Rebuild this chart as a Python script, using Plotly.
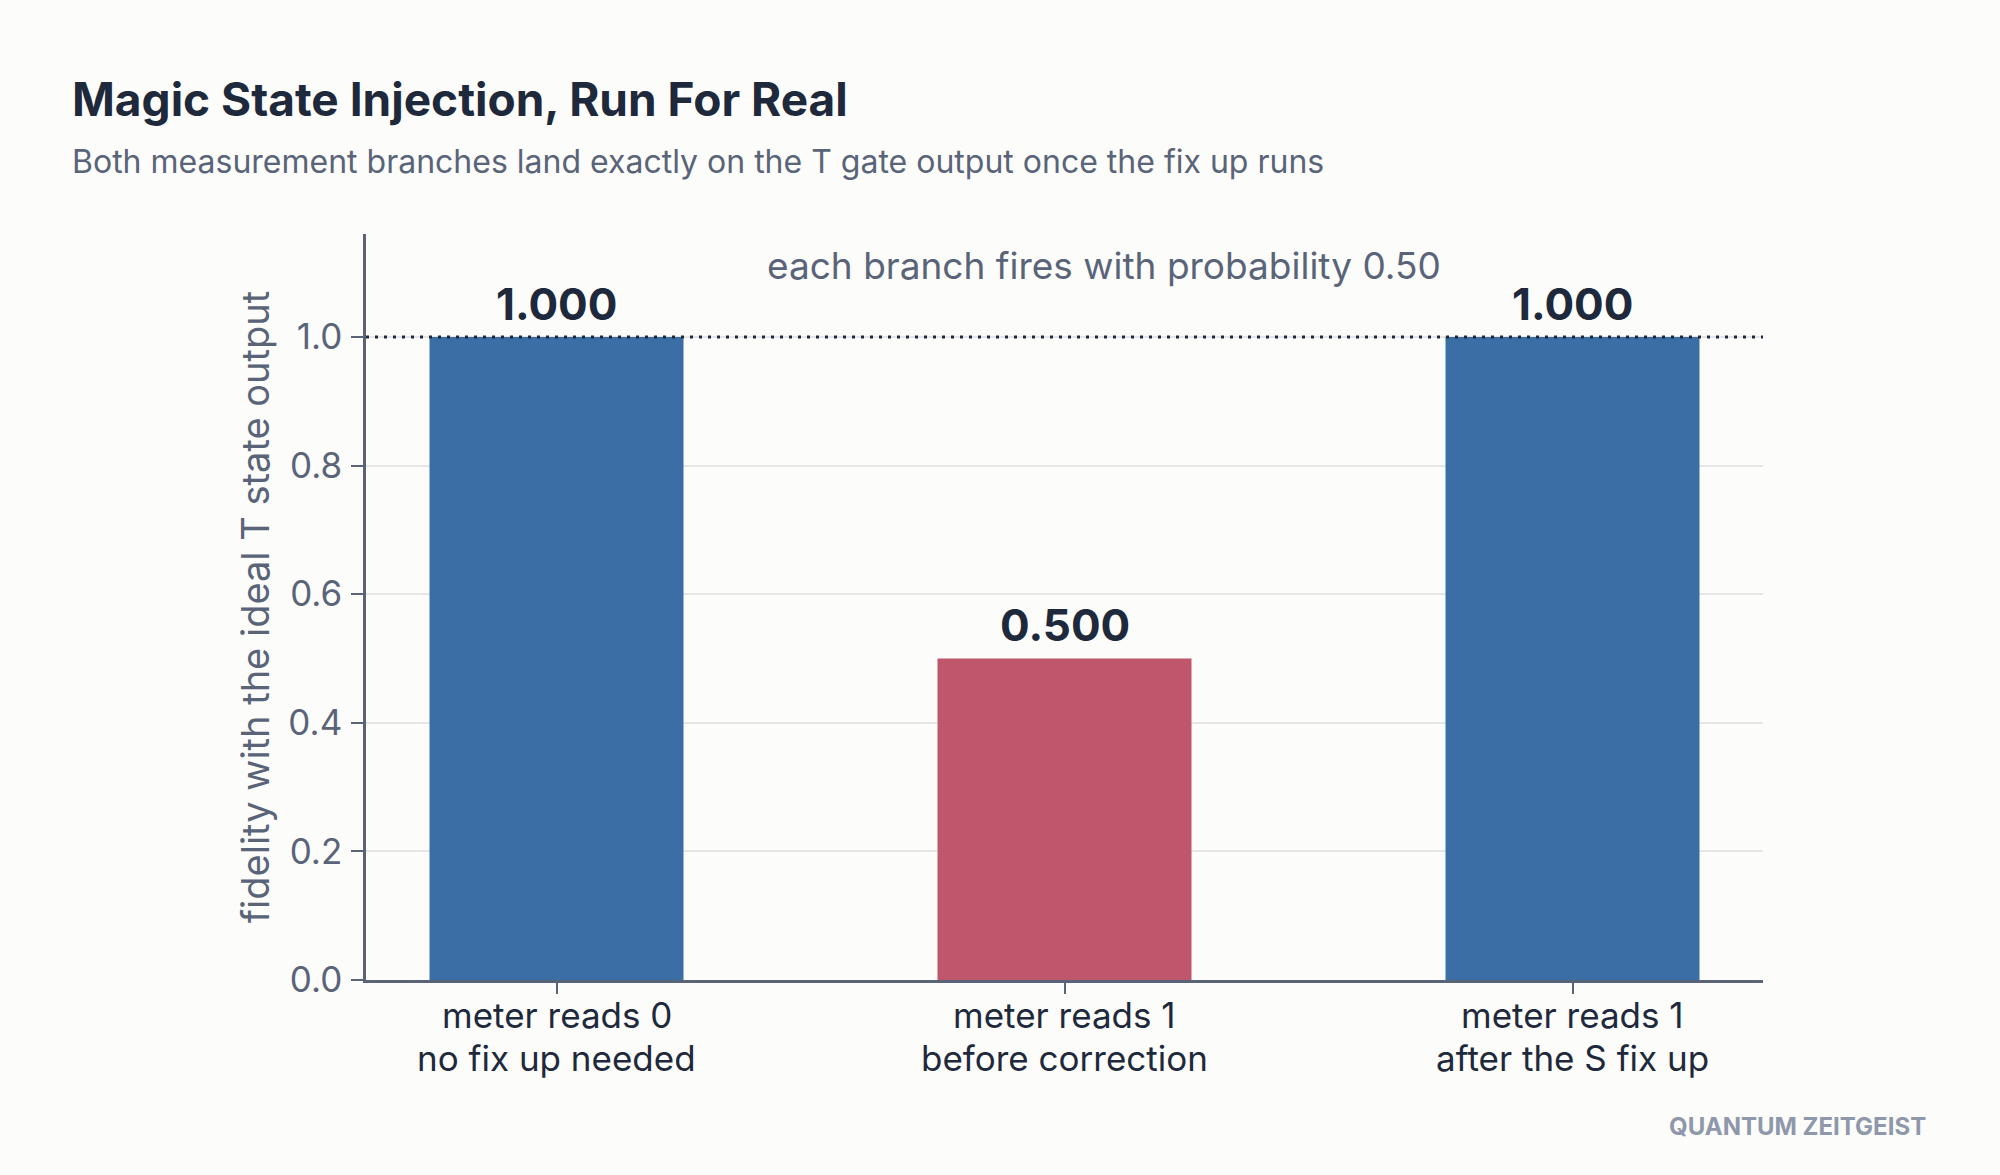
import plotly.graph_objects as go

categories = ["meter reads 0<br>no fix up needed",
              "meter reads 1<br>before correction",
              "meter reads 1<br>after the S fix up"]
fidelity = [1.0, 0.5, 1.0]
bar_colors = ["#3b6ea5", "#c0566b", "#3b6ea5"]
value_labels = ["1.000", "0.500", "1.000"]
y_ticks = [0.0, 0.2, 0.4, 0.6, 0.8, 1.0]
ideal_level = 1.0

TITLE = "Magic State Injection, Run For Real"
SUBTITLE = "Both measurement branches land exactly on the T gate output once the fix up runs"
NOTE = "each branch fires with probability 0.50"
YTITLE = "fidelity with the ideal T state output"
BRAND = "QUANTUM ZEITGEIST"

W, H = 2000, 1175
L, R, T, B = 366, 237, 234, 195
pw, ph = W - L - R, H - T - B

DARK = "#1e293b"
GRAY = "#5a6478"
BG = "#fcfcfb"
FONT = "Inter"

def px_x(x):
    return (x - L) / pw

def px_y(y):
    return (H - B - y) / ph

fig = go.Figure()
fig.add_trace(go.Bar(
    x=list(range(len(categories))), y=fidelity,
    marker=dict(color=bar_colors, line=dict(width=0)),
    width=0.5, hoverinfo="skip", showlegend=False,
))

annotations = []
for i, (v, lab) in enumerate(zip(fidelity, value_labels)):
    annotations.append(dict(
        x=i, y=v, xref="x", yref="y", text=lab, showarrow=False,
        yanchor="middle", xanchor="center", yshift=33,
        font=dict(family=FONT, size=44, color=DARK, weight=700),
    ))

# category labels (two lines each, tighter line spacing than tick labels allow)
for i, cat in enumerate(categories):
    for j, line in enumerate(cat.split("<br>")):
        annotations.append(dict(
            x=i, y=0, xref="x", yref="y", text=line, showarrow=False,
            yanchor="middle", xanchor="center", yshift=-35 - 43 * j,
            font=dict(family=FONT, size=35, color=DARK),
        ))

annotations += [
    dict(x=px_x(1104), y=px_y(265), xref="paper", yref="paper", text=NOTE,
         showarrow=False, xanchor="center", yanchor="middle",
         font=dict(family=FONT, size=37, color=GRAY)),
    dict(x=px_x(70), y=px_y(162), xref="paper", yref="paper", text=SUBTITLE,
         showarrow=False, xanchor="left", yanchor="middle",
         font=dict(family=FONT, size=32, color=GRAY)),
    dict(x=px_x(70), y=px_y(99), xref="paper", yref="paper", text=TITLE,
         showarrow=False, xanchor="left", yanchor="middle",
         font=dict(family=FONT, size=46, color=DARK, weight=700)),
    dict(x=px_x(255), y=0.5, xref="paper", yref="paper", text=YTITLE,
         showarrow=False, xanchor="center", yanchor="middle", textangle=-90,
         font=dict(family=FONT, size=38, color=GRAY)),
    dict(x=px_x(1928), y=px_y(1126), xref="paper", yref="paper", text=BRAND,
         showarrow=False, xanchor="right", yanchor="middle",
         font=dict(family=FONT, size=24, color="#8e98aa", weight=700)),
]

fig.add_shape(type="line", xref="paper", yref="y", x0=0, x1=1,
              y0=ideal_level, y1=ideal_level, layer="above",
              line=dict(color=DARK, width=3, dash="3px,6px"))

fig.update_layout(
    width=W, height=H,
    margin=dict(l=L, r=R, t=T, b=B, autoexpand=False),
    paper_bgcolor=BG, plot_bgcolor=BG,
    bargap=0.5,
    annotations=annotations,
    font=dict(family=FONT),
)
fig.update_xaxes(
    range=[-0.375, 2.375], tickmode="array",
    tickvals=list(range(len(categories))), ticktext=categories,
    showticklabels=False,
    showline=True, linecolor=GRAY, linewidth=2.5,
    ticks="outside", ticklen=11, tickwidth=1.5, tickcolor=GRAY,
    showgrid=False, zeroline=False, fixedrange=True,
)
fig.update_yaxes(
    range=[0, 1.16], tickmode="array", tickvals=y_ticks,
    ticktext=[f"{t:.1f}" for t in y_ticks],
    showline=True, linecolor=GRAY, linewidth=2.5,
    ticks="outside", ticklen=12, tickwidth=1.5, tickcolor=GRAY,
    ticklabelstandoff=2,
    tickfont=dict(family=FONT, size=35, color=GRAY),
    showgrid=True, gridcolor="#e6e6e6", gridwidth=2,
    zeroline=False, fixedrange=True,
)

fig.write_html("out.html", config=dict(displayModeBar=False))
